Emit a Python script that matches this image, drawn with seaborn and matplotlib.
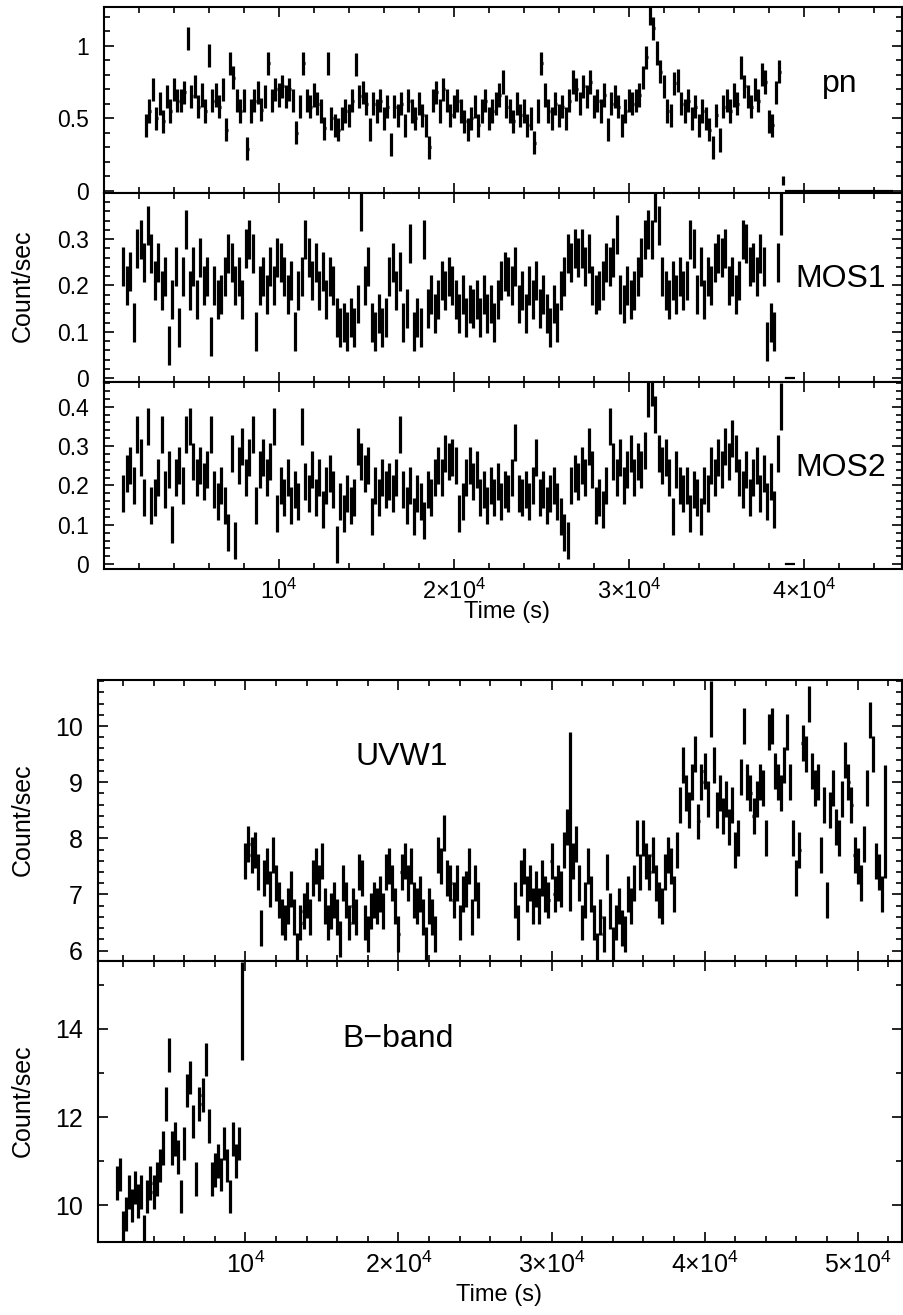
import numpy as np
import matplotlib
matplotlib.use("Agg")
import matplotlib.pyplot as plt
from matplotlib.ticker import MultipleLocator, FuncFormatter
import seaborn as sns

# estilo geral
sns.set_theme(style="ticks")
plt.rcParams["font.family"] = ["Liberation Sans", "DejaVu Sans"]
plt.rcParams["mathtext.fontset"] = "custom"
plt.rcParams["mathtext.rm"] = "Liberation Sans"
plt.rcParams["mathtext.it"] = "Liberation Sans:italic"
plt.rcParams["text.color"] = "black"
plt.rcParams["axes.edgecolor"] = "black"
plt.rcParams["xtick.color"] = "black"
plt.rcParams["ytick.color"] = "black"

# ---------------- dados ----------------
XRAY_BIN = 200          # s
PN_START = 2400
pn_rate = [
    0.45, 0.55, 0.70, 0.50, 0.60, 0.48, 0.65, 0.55, 0.70, 0.62,
    0.62, 0.68, 1.05, 0.65, 0.72, 0.58, 0.66, 0.55, 0.93, 0.62,
    0.66, 0.58, 0.70, 0.42, 0.88, 0.78, 0.62, 0.55, 0.62, 0.29,
    0.55, 0.62, 0.68, 0.56, 0.65, 0.88, 0.62, 0.70, 0.66, 0.72,
    0.65, 0.70, 0.62, 0.40, 0.58, 0.88, 0.62, 0.58, 0.66, 0.60,
    0.55, 0.43, 0.88, 0.50, 0.45, 0.42, 0.50, 0.55, 0.52, 0.62,
    0.87, 0.65, 0.68, 0.60, 0.42, 0.60, 0.55, 0.62, 0.50, 0.58,
    0.32, 0.58, 0.52, 0.60, 0.45, 0.62, 0.55, 0.50, 0.60, 0.52,
    0.45, 0.30, 0.62, 0.68, 0.55, 0.70, 0.62, 0.52, 0.58, 0.62,
    0.55, 0.48, 0.42, 0.50, 0.58, 0.45, 0.55, 0.62, 0.50, 0.55,
    0.60, 0.66, 0.75, 0.58, 0.55, 0.48, 0.60, 0.52, 0.55, 0.45,
    0.50, 0.33, 0.55, 0.88, 0.66, 0.55, 0.50, 0.60, 0.52, 0.58,
    0.50, 0.62, 0.75, 0.70, 0.60, 0.72, 0.65, 0.75, 0.58, 0.62,
    0.55, 0.66, 0.42, 0.60, 0.65, 0.58, 0.45, 0.55, 0.62, 0.60,
    0.62, 0.66, 0.78, 0.92, 1.22, 1.12, 0.95, 0.82, 0.72, 0.55,
    0.52, 0.74, 0.76, 0.60, 0.55, 0.62, 0.50, 0.58, 0.45, 0.55,
    0.50, 0.42, 0.30, 0.52, 0.35, 0.58, 0.62, 0.55, 0.66, 0.60,
    0.85, 0.72, 0.65, 0.58, 0.70, 0.62, 0.80, 0.75, 0.48, 0.45,
    0.68, 0.82, 0.07,
]
pn_err = 0.08
pn_wide_err = {38800: 0.03}
PN_ZERO_START = 39000
PN_ZERO_STOP = 45000

MOS_START = 1100
mos1_rate = [
    0.24, 0.20, 0.23, 0.12, 0.28, 0.30, 0.25, 0.33, 0.27, 0.21,
    0.25, 0.19, 0.22, 0.07, 0.17, 0.24, 0.11, 0.22, 0.32, 0.19,
    0.24, 0.17, 0.26, 0.20, 0.22, 0.09, 0.20, 0.17, 0.18, 0.22,
    0.27, 0.25, 0.20, 0.22, 0.17, 0.28, 0.30, 0.27, 0.10, 0.20,
    0.22, 0.18, 0.24, 0.20, 0.26, 0.25, 0.22, 0.18, 0.21, 0.10,
    0.19, 0.22, 0.30, 0.26, 0.21, 0.25, 0.19, 0.23, 0.17, 0.22,
    0.20, 0.13, 0.11, 0.12, 0.10, 0.13, 0.11, 0.16, 0.36, 0.20,
    0.24, 0.12, 0.10, 0.14, 0.11, 0.13, 0.22, 0.25, 0.19, 0.23,
    0.12, 0.15, 0.29, 0.10, 0.13, 0.11, 0.30, 0.15, 0.18, 0.14,
    0.17, 0.21, 0.19, 0.22, 0.20, 0.17, 0.14, 0.18, 0.13, 0.16,
    0.15, 0.17, 0.13, 0.18, 0.14, 0.16, 0.12, 0.17, 0.21, 0.23,
    0.22, 0.20, 0.24, 0.16, 0.19, 0.14, 0.20, 0.17, 0.21, 0.15,
    0.18, 0.14, 0.11, 0.16, 0.12, 0.19, 0.22, 0.27, 0.25, 0.28,
    0.26, 0.28, 0.24, 0.27, 0.20, 0.18, 0.19, 0.21, 0.25, 0.24,
    0.26, 0.31, 0.18, 0.16, 0.20, 0.17, 0.19, 0.22, 0.26, 0.30,
    0.32, 0.30, 0.38, 0.33, 0.22, 0.19, 0.17, 0.21, 0.18, 0.22,
    0.19, 0.21, 0.30, 0.28, 0.18, 0.24, 0.17, 0.22, 0.20, 0.25,
    0.27, 0.26, 0.28, 0.20, 0.22, 0.18, 0.21, 0.30, 0.29, 0.24,
    0.25, 0.22, 0.27, 0.24, 0.08, 0.12, 0.10, 0.25, 0.36,
]
mos1_err = 0.042
mos1_wide_err = {38700: 0.05}

mos2_rate = [
    0.18, 0.23, 0.25, 0.20, 0.33, 0.27, 0.17, 0.35, 0.15, 0.17,
    0.22, 0.33, 0.19, 0.24, 0.10, 0.22, 0.25, 0.20, 0.33, 0.35,
    0.26, 0.22, 0.25, 0.21, 0.24, 0.33, 0.19, 0.16, 0.20, 0.15,
    0.08, 0.28, 0.06, 0.25, 0.30, 0.22, 0.27, 0.33, 0.15, 0.24,
    0.27, 0.22, 0.26, 0.35, 0.13, 0.20, 0.17, 0.22, 0.15, 0.19,
    0.16, 0.35, 0.21, 0.18, 0.24, 0.17, 0.22, 0.14, 0.20, 0.23,
    0.19, 0.05, 0.16, 0.13, 0.18, 0.15, 0.17, 0.30, 0.26, 0.23,
    0.25, 0.12, 0.20, 0.17, 0.22, 0.19, 0.21, 0.18, 0.22, 0.33,
    0.19, 0.15, 0.20, 0.12, 0.18, 0.16, 0.11, 0.19, 0.17, 0.22,
    0.25, 0.22, 0.28, 0.26, 0.27, 0.25, 0.13, 0.16, 0.22, 0.25,
    0.21, 0.24, 0.17, 0.19, 0.15, 0.20, 0.17, 0.21, 0.16, 0.19,
    0.18, 0.22, 0.31, 0.18, 0.17, 0.19, 0.16, 0.20, 0.27, 0.17,
    0.19, 0.15, 0.18, 0.20, 0.16, 0.12, 0.08, 0.06, 0.20, 0.23,
    0.21, 0.25, 0.22, 0.30, 0.24, 0.15, 0.17, 0.14, 0.20, 0.35,
    0.26, 0.22, 0.27, 0.20, 0.24, 0.28, 0.22, 0.26, 0.24, 0.29,
    0.42, 0.45, 0.38, 0.28, 0.25, 0.27, 0.22, 0.12, 0.24, 0.20,
    0.18, 0.20, 0.13, 0.19, 0.17, 0.12, 0.20, 0.18, 0.25, 0.22,
    0.27, 0.24, 0.30, 0.26, 0.32, 0.28, 0.22, 0.19, 0.24, 0.17,
    0.22, 0.25, 0.18, 0.23, 0.16, 0.21, 0.14, 0.28, 0.40,
]
mos2_err = 0.047
mos2_wide_err = {38700: 0.06}
mos_stub_time = [39000, 39200, 39400]

UV_BIN = 200
UVW1_START_A = 10000
uvw1_rate_a = [
    7.6, 7.9, 7.7, 7.8, 7.4, 6.4, 7.3, 7.5, 7.1, 7.7,
    7.2, 6.9, 6.6, 6.5, 6.8, 7.1, 6.6, 6.0, 6.5, 6.7,
    6.9, 6.6, 7.3, 7.5, 7.2, 7.6, 6.8, 6.5, 6.7, 6.9,
    6.6, 6.2, 7.2, 6.9, 6.5, 6.8, 6.6, 7.4, 7.3, 6.5,
    6.3, 6.7, 6.9, 6.8, 7.0, 6.7, 7.4, 7.5, 7.2, 6.8,
    6.3, 7.4, 7.6, 7.2, 7.5, 6.9, 6.8, 7.0, 6.6, 6.1,
    6.8, 6.6, 6.3, 7.7, 7.5, 8.1, 7.3, 7.2, 6.9, 7.2,
    6.5, 7.0, 7.1, 7.5, 6.6, 7.2, 6.9,
]
UVW1_START_B = 27600
uvw1_rate_b = [
    6.9, 6.5, 7.3, 7.5, 7.0, 7.2, 6.8, 7.1, 6.8, 7.3,
    7.0, 6.9, 7.6, 7.0, 7.2, 7.1, 7.8, 8.2, 8.3, 7.6,
    7.9, 7.2, 6.5, 6.9, 7.5, 7.0, 6.5, 6.0, 6.6, 6.3,
    7.4, 6.7, 6.1, 6.5, 6.8, 6.4, 6.3, 7.0, 6.8, 7.2,
    8.0, 7.4, 8.0, 7.6, 7.4, 7.7, 7.2, 6.9, 6.8, 7.4,
    7.7, 7.5, 7.0, 7.8, 8.6, 9.3, 8.8, 8.5, 9.0, 9.5,
    8.3, 9.0, 9.2, 8.7, 10.3, 9.3, 8.5, 8.8, 8.4, 8.7,
    8.2, 8.6, 7.8, 8.0, 9.1, 10.0, 9.0, 8.8, 8.4, 8.7,
    9.0, 8.9, 8.0, 9.9, 10.0, 9.2, 9.0, 8.8, 9.3, 9.9,
    9.0, 8.0, 7.3, 7.8, 9.7, 9.5, 10.4, 9.2, 8.9, 9.0,
    7.7, 8.6, 6.9, 8.5, 8.9, 8.2, 8.0, 8.7, 9.4, 9.0,
    8.6, 7.7, 7.5, 7.2, 7.9, 8.9, 10.1, 9.5, 7.6, 7.4,
    7.0, 8.3,
]
uvw1_err = 0.32
uvw1_wide_err = {31200: 1.6, 40400: 0.5, 51800: 1.0}

BBAND_START = 1600
bband_rate = [
    10.5, 10.7, 9.5, 9.8, 10.3, 10.0, 10.4, 10.1, 10.3, 9.4,
    10.2, 10.5, 10.3, 10.6, 10.9, 11.3, 12.3, 13.4, 11.3, 11.5,
    11.1, 10.2, 11.4, 12.6, 12.9, 11.9, 10.6, 12.3, 12.5, 13.3,
    11.8, 10.6, 10.8, 11.0, 10.7, 11.4, 10.9, 10.2, 11.5, 11.0,
    11.4, 14.4,
]
bband_err = 0.38
bband_wide_err = {9800: 1.1}

# ---------------- funções auxiliares ----------------
W, H = 904, 1315


def box(l, t, r, b):
    return [l / W, 1 - b / H, (r - l) / W, (b - t) / H]


def binned(start, step, rate, err, wide):
    t = start + step * np.arange(len(rate))
    e = np.full(len(rate), err)
    for tt, ee in wide.items():
        e[t == tt] = ee
    return t, np.asarray(rate), e


def draw_curve(ax, t, rate, err, half):
    ax.errorbar(t, rate, yerr=err, xerr=half, fmt="none", ecolor="black",
                elinewidth=2.3, capsize=0, zorder=3)
    sns.scatterplot(x=t, y=rate, ax=ax, color="black", s=5, linewidth=0,
                    legend=False, zorder=4)


def time_label(v, pos):
    n = int(round(v / 1e4))
    if n <= 0:
        return ""
    if n == 1:
        return r"$10^{4}$"
    return r"$%d{\times}10^{4}$" % n


def rate_label(v, pos):
    return "%g" % round(v, 3)


def style(ax, xlim, ylim, ymaj, ymin, xsize, ysize, show_x):
    ax.set_xlim(*xlim)
    ax.set_ylim(*ylim)
    ax.xaxis.set_major_locator(MultipleLocator(1e4))
    ax.xaxis.set_minor_locator(MultipleLocator(2000))
    ax.yaxis.set_major_locator(MultipleLocator(ymaj))
    ax.yaxis.set_minor_locator(MultipleLocator(ymin))
    ax.xaxis.set_major_formatter(FuncFormatter(time_label))
    ax.yaxis.set_major_formatter(FuncFormatter(rate_label))
    ax.tick_params(which="both", direction="in", top=True, right=True,
                   width=1.2, labelbottom=show_x)
    ax.tick_params(which="major", length=7.5)
    ax.tick_params(which="minor", length=4.5)
    ax.tick_params(axis="x", labelsize=xsize, pad=7)
    ax.tick_params(axis="y", labelsize=ysize, pad=11)
    for sp in ax.spines.values():
        sp.set_linewidth(1.5)
        sp.set_color("black")
    ax.set_xlabel("")
    ax.set_ylabel("")


fig = plt.figure(figsize=(W / 100, H / 100), dpi=100)
fig.patch.set_facecolor("white")

top_xlim = (0, 45600)
bot_xlim = (390, 52900)

# ---------------- painel pn ----------------
ax_pn = fig.add_axes(box(104, 7.3, 902, 193.3))
t, r, e = binned(PN_START, XRAY_BIN, pn_rate, pn_err, pn_wide_err)
draw_curve(ax_pn, t, r, e, 70)
tz = np.arange(PN_ZERO_START, PN_ZERO_STOP + 1, XRAY_BIN)
ax_pn.errorbar(tz, np.zeros(len(tz)), yerr=0.004, xerr=XRAY_BIN / 2,
               fmt="none", ecolor="black", elinewidth=1.6, zorder=3)
style(ax_pn, top_xlim, (-0.018, 1.265), 0.5, 0.1, 17, 16.5, False)

# ---------------- painel MOS1 ----------------
ax_m1 = fig.add_axes(box(104, 193.3, 902, 382.3))
t, r, e = binned(MOS_START, XRAY_BIN, mos1_rate, mos1_err, mos1_wide_err)
draw_curve(ax_m1, t, r, e, 70)
ax_m1.errorbar(mos_stub_time, np.zeros(len(mos_stub_time)), yerr=0.002,
               xerr=XRAY_BIN / 2, fmt="none", ecolor="black", elinewidth=1.6)
style(ax_m1, top_xlim, (-0.009, 0.399), 0.1, 0.02, 17, 16.5, False)

# ---------------- painel MOS2 ----------------
ax_m2 = fig.add_axes(box(104, 382.3, 902, 569.3))
t, r, e = binned(MOS_START, XRAY_BIN, mos2_rate, mos2_err, mos2_wide_err)
draw_curve(ax_m2, t, r, e, 70)
ax_m2.errorbar(mos_stub_time, np.zeros(len(mos_stub_time)), yerr=0.002,
               xerr=XRAY_BIN / 2, fmt="none", ecolor="black", elinewidth=1.6)
style(ax_m2, top_xlim, (-0.013, 0.462), 0.1, 0.02, 17, 16.5, True)

# ---------------- painel UVW1 ----------------
ax_uv = fig.add_axes(box(98.3, 680, 902, 960.7))
for start, rates in [(UVW1_START_A, uvw1_rate_a), (UVW1_START_B, uvw1_rate_b)]:
    t, r, e = binned(start, UV_BIN, rates, uvw1_err, uvw1_wide_err)
    draw_curve(ax_uv, t, r, e, 70)
style(ax_uv, bot_xlim, (5.82, 10.82), 1, 0.2, 18, 18, False)

# ---------------- painel B-band ----------------
ax_b = fig.add_axes(box(98.3, 960.7, 902, 1242))
t, r, e = binned(BBAND_START, UV_BIN, bband_rate, bband_err, bband_wide_err)
draw_curve(ax_b, t, r, e, 70)
style(ax_b, bot_xlim, (9.17, 15.54), 2, 1, 18, 18, True)

# ---------------- textos ----------------
def ftext(x, y, s, **kw):
    fig.text(x / W, 1 - y / H, s, **kw)


lab = dict(fontsize=23, ha="left", va="baseline")
ftext(822, 91.7, "pn", **lab)
ftext(795, 286.7, "MOS1", **lab)
ftext(795, 476, "MOS2", **lab)
ftext(355, 765, "UVW1", **lab)
ftext(342, 1046.7, "B\u2212band", **lab)

ylab = dict(fontsize=18, ha="center", va="center", rotation=90)
ftext(23, 286, "Count/sec", **ylab)
ftext(23, 820, "Count/sec", **ylab)
ftext(23, 1101, "Count/sec", **ylab)

xlab = dict(fontsize=17, ha="center", va="center")
ftext(507, 612, "Time (s)", **xlab)
ftext(499, 1295, "Time (s)", **xlab)

plt.savefig("out.png", dpi=100)
